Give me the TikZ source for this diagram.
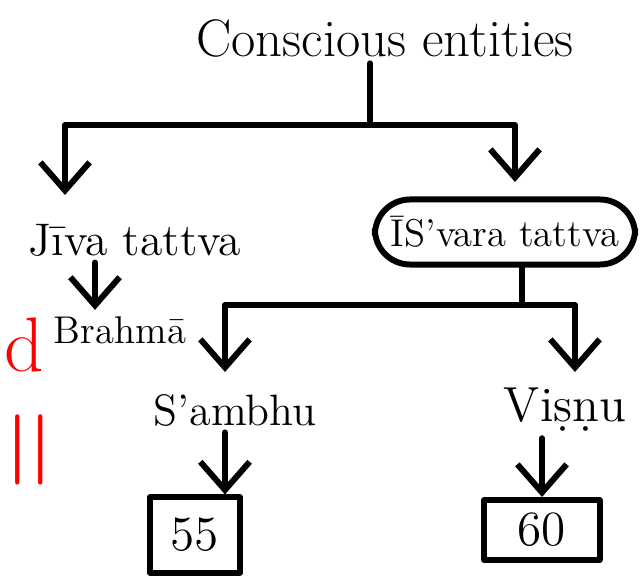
\documentclass[tikz,border=0pt]{standalone}
\usepackage{fontspec}
\usetikzlibrary{arrows.meta}
\begin{document}
\begin{tikzpicture}[x=0.01cm,y=-0.01cm,line width=1.7pt,line cap=round,line join=round,
	arr/.style={-{Straight Barb[length=8pt,width=14pt]}},
	word/.style={inner sep=1pt},
	tbox/.style={draw,inner sep=3pt}]
	\useasboundingbox (0,0) rectangle (641,579);
	%Knoten
	\node [word,font=\fontsize{15}{18}\selectfont] (root) at (385,38) {Conscious entities};
	\node [word,font=\fontsize{13}{16}\selectfont] (jiva) at (135,240) {J\={\i}va tattva};
	\node [word,font=\fontsize{11}{13}\selectfont] (brahma) at (120,330) {Brahm\={a}};
	\node [tbox,rounded corners=10pt,minimum width=2.6cm,minimum height=0.65cm,font=\fontsize{11}{13}\selectfont] (isvara) at (505,232) {\={I}S'vara tattva};
	\node [word,font=\fontsize{12.5}{15}\selectfont] (sambhu) at (235,410) {S'ambhu};
	\node [word,font=\fontsize{14}{17}\selectfont] (visnu) at (565,410) {Vi\d{s}\d{n}u};
	\node [tbox,minimum width=0.9cm,minimum height=0.75cm,font=\fontsize{14}{17}\selectfont] (n55) at (195,535) {55};
	\node [tbox,minimum width=1.15cm,minimum height=0.6cm,font=\fontsize{14}{17}\selectfont] (n60) at (542,530) {60};
	%Verzweigungen
	\coordinate (b1) at (370,125);
	\coordinate (jl) at (65,195);
	\coordinate (ir) at (515,182);
	\coordinate (b2) at (522,305);
	\coordinate (sl) at (225,372);
	\coordinate (vr) at (575,372);
	%Pfeile
	\draw (b1 |- root.south) -- (b1);
	\draw [arr] (b1) -| (jl);
	\draw [arr] (b1) -| (ir);
	\draw (b2 |- isvara.south) -- (b2);
	\draw [arr] (b2) -| (sl);
	\draw [arr] (b2) -| (vr);
	\draw [arr] (jiva.south -| 95,0) -- (brahma.north -| 95,0);
	\draw [arr] (sambhu.south -| 225,0) -- (n55.north -| 225,0);
	\draw [arr] (visnu.south -| n60) -- (n60.north);
	%Rote Reste am Rand
	\node [red,inner sep=0pt,anchor=base west,font=\fontsize{22}{24}\selectfont] (d) at (2,372) {d};
	\node [red,inner sep=0pt,anchor=base west,font=\bfseries\fontsize{20}{24}\selectfont] (bars) at (4,468) {||};
\end{tikzpicture}
\end{document}
